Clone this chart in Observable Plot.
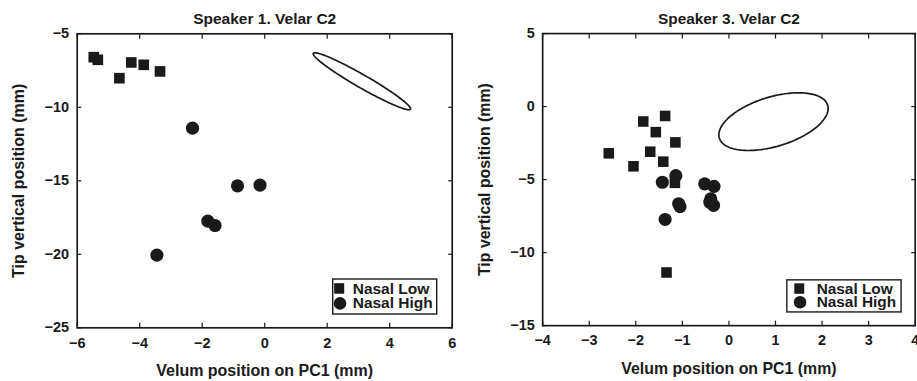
<!DOCTYPE html>
<html><head><meta charset="utf-8">
<script src="https://cdn.jsdelivr.net/npm/d3@7"></script>
<script src="https://cdn.jsdelivr.net/npm/@observablehq/plot@0.6"></script>
<style>
html,body{margin:0;padding:0;background:#fff;overflow:hidden;width:917px;height:381px}
#wrap{position:relative;width:917px;height:381px;overflow:hidden}
#wrap>div{position:absolute;top:0}
</style></head><body>
<div id="wrap"><div id="p1" style="left:0"></div><div id="p2" style="left:460px"></div></div>
<script>
// ---- Speaker 1 ----
const s1Title = "Speaker 1. Velar C2";
const s1XTicks = [-6, -4, -2, 0, 2, 4, 6];
const s1YTicks = [-25, -20, -15, -10, -5];
const s1LowX  = [-5.47, -5.34, -4.65, -4.27, -3.87, -3.35];
const s1LowY  = [-6.59, -6.77, -8.02, -6.95, -7.11, -7.56];
const s1HighX = [-2.31, -0.87, -0.15, -1.82, -1.59, -3.45];
const s1HighY = [-11.42, -15.34, -15.29, -17.74, -18.04, -20.06];
const s1EllipseCenter = [3.11, -8.23];
const s1EllipseMajor  = [1.554, -1.899];
const s1EllipseMinor  = [-0.104, -0.383];

// ---- Speaker 3 ----
const s3Title = "Speaker 3. Velar C2";
const s3XTicks = [-4, -3, -2, -1, 0, 1, 2, 3, 4];
const s3YTicks = [-15, -10, -5, 0, 5];
const s3LowX  = [-2.58, -2.05, -1.84, -1.69, -1.57, -1.41, -1.37, -1.15, -1.16, -1.34];
const s3LowY  = [-3.20, -4.09, -1.02, -3.09, -1.75, -3.77, -0.64, -2.45, -5.22, -11.36];
const s3HighX = [-1.43, -1.14, -1.08, -1.05, -1.37, -0.52, -0.32, -0.39, -0.41, -0.33];
const s3HighY = [-5.18, -4.73, -6.65, -6.85, -7.73, -5.29, -5.46, -6.32, -6.55, -6.77];
const s3EllipseCenter = [0.957, -1.03];
const s3EllipseMajor  = [1.163, 1.125];
const s3EllipseMinor  = [0.154, -1.624];

const xLabel = "Velum position on PC1 (mm)";
const yLabel = "Tip vertical position (mm)";
const legendLabels = ["Nasal Low", "Nasal High"];

const INK = "#1a1a1a";
const FONT = "'Liberation Sans', Arial, Helvetica, sans-serif";

function legendMark(L) {
  return (index, scales, values, dims) => {
    const x0 = dims.width - dims.marginRight - L.right - L.w;
    const y0 = dims.height - dims.marginBottom - L.bottom - L.h;
    const g = d3.create("svg:g");
    g.append("rect").attr("x", x0).attr("y", y0).attr("width", L.w).attr("height", L.h)
      .attr("fill", "#fff").attr("stroke", INK).attr("stroke-width", 1.4);
    g.append("rect").attr("x", x0 + L.mx - 5).attr("y", y0 + L.b1 - 10.5).attr("width", 10).attr("height", 10.5)
      .attr("fill", INK);
    g.append("circle").attr("cx", x0 + L.mx + 0.8).attr("cy", y0 + L.b2 - 4.8).attr("r", 6.3).attr("fill", INK);
    [L.b1, L.b2].forEach((b, i) => {
      g.append("text").attr("x", x0 + L.tx).attr("y", y0 + b).text(legendLabels[i])
        .attr("text-anchor", "start")
        .attr("font-size", L.fs).attr("font-weight", "bold").attr("fill", INK).attr("font-family", FONT);
    });
    return g.node();
  };
}

function panel(c) {
  const low = c.lowX.map((x, i) => ({x, y: c.lowY[i]}));
  const high = c.highX.map((x, i) => ({x, y: c.highY[i]}));
  const N = 180;
  const ell = d3.range(N + 1).map(i => {
    const t = 2 * Math.PI * i / N;
    return {
      x: c.ec[0] + c.ea[0] * Math.cos(t) + c.eb[0] * Math.sin(t),
      y: c.ec[1] + c.ea[1] * Math.cos(t) + c.eb[1] * Math.sin(t)
    };
  });
  return Plot.plot({
    width: 460, height: 381,
    marginLeft: c.ml, marginRight: c.mr, marginTop: 33.3, marginBottom: 53.7,
    x: {domain: c.xd}, y: {domain: c.yd},
    style: {fontFamily: FONT, fontWeight: "bold", color: INK, background: "transparent", overflow: "visible"},
    marks: [
      Plot.axisX(c.xt, {anchor: "bottom", tickSize: -4.5, tickPadding: 14, fontSize: 14.5, label: null, strokeWidth: 1.2}),
      Plot.axisX(c.xt, {anchor: "top", tickSize: -4.5, tickFormat: () => "", label: null, strokeWidth: 1.2}),
      Plot.axisY(c.yt, {anchor: "left", tickSize: -4.5, tickPadding: 12.5, fontSize: 14.5, label: null, strokeWidth: 1.2}),
      Plot.axisY(c.yt, {anchor: "right", tickSize: -4.5, tickFormat: () => "", label: null, strokeWidth: 1.2}),
      Plot.line(ell, {x: "x", y: "y", stroke: INK, strokeWidth: 1.7}),
      Plot.dot(low, {x: "x", y: "y", symbol: "square", r: 6.0, fill: INK}),
      Plot.dot(high, {x: "x", y: "y", symbol: "circle", r: 6.6, fill: INK}),
      Plot.frame({stroke: INK, strokeWidth: 1.7}),
      Plot.text([c.title], {text: d => d, frameAnchor: "top", textAnchor: "middle", lineAnchor: "middle", dy: -14.6, fontSize: 15.5, fontWeight: "bold", fill: INK}),
      Plot.text([xLabel], {text: d => d, frameAnchor: "bottom", textAnchor: "middle", lineAnchor: "middle", dy: 43.2, fontSize: 16, fontWeight: "bold", fill: INK}),
      Plot.text([yLabel], {text: d => d, frameAnchor: "left", textAnchor: "middle", lineAnchor: "middle", dx: -58, rotate: -90, fontSize: 16, fontWeight: "bold", fill: INK}),
      legendMark(c.legend)
    ]
  });
}

document.getElementById("p1").append(panel({
  title: s1Title, xd: [-6, 6], yd: [-25, -5], xt: s1XTicks, yt: s1YTicks,
  lowX: s1LowX, lowY: s1LowY, highX: s1HighX, highY: s1HighY,
  ec: s1EllipseCenter, ea: s1EllipseMajor, eb: s1EllipseMinor,
  ml: 76.7, mr: 8.3,
  legend: {w: 104, h: 35, right: 15, bottom: 13.3, mx: 6.5, tx: 20, b1: 14.7, b2: 29.2, fs: 15.5}
}));
document.getElementById("p2").append(panel({
  title: s3Title, xd: [-4, 4], yd: [-15, 5], xt: s3XTicks, yt: s3YTicks,
  lowX: s3LowX, lowY: s3LowY, highX: s3HighX, highY: s3HighY,
  ec: s3EllipseCenter, ea: s3EllipseMajor, eb: s3EllipseMinor,
  ml: 82.7, mr: 2.3,
  legend: {w: 115, h: 32.3, right: 13.7, bottom: 13.3, mx: 12.5, tx: 30, b1: 14, b2: 27.3, fs: 15.5}
}));
</script>
</body></html>
